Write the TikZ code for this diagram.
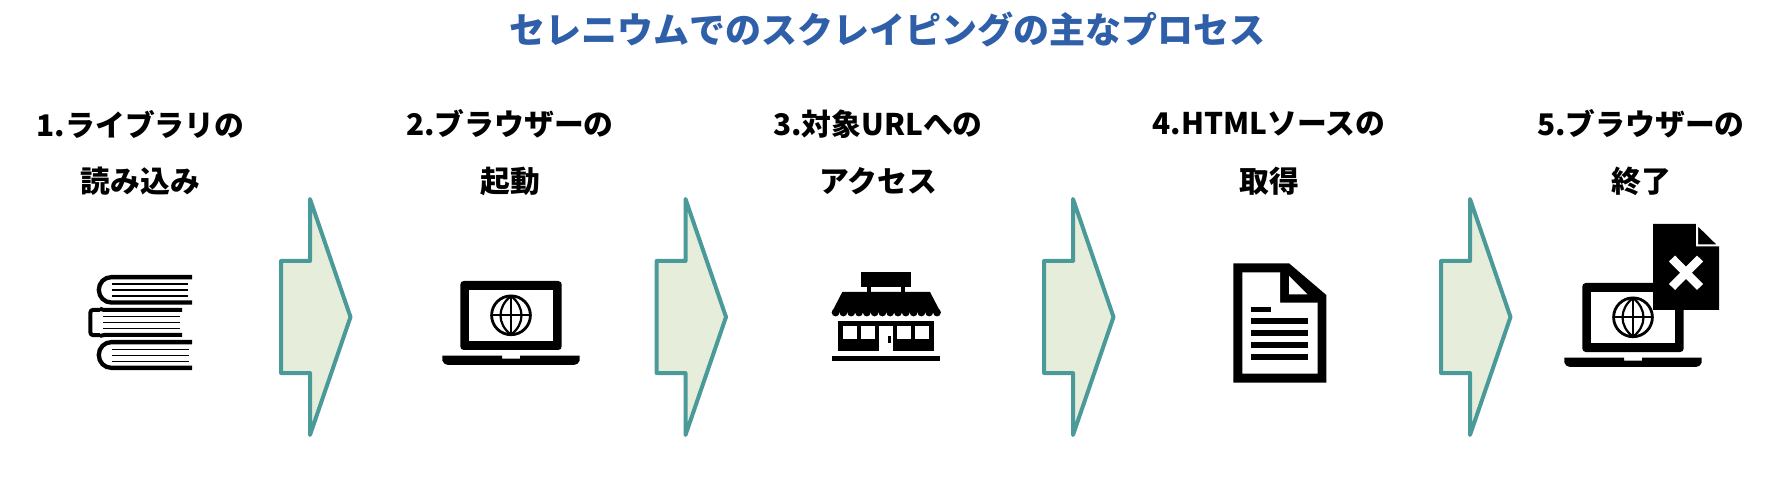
\documentclass[tikz,border=0pt]{standalone}
\usepackage{fontspec}
\setmainfont{Noto Sans CJK JP}
\begin{document}
\begin{tikzpicture}[x=1pt,y=-1pt,
  ttl/.style={font=\fontsize{36}{40}\selectfont\bfseries,text=titleblue,inner sep=0pt,anchor=center},
  lbl/.style={font=\fontsize{29.8}{34}\selectfont\bfseries,text=black,inner sep=0pt,anchor=center},
  flow/.style={draw=flowedge,fill=flowfill,line width=4pt,line join=round},
  ink/.style={fill=black,draw=none},
  paper/.style={fill=white,draw=none},
  hairline/.style={draw=black,line width=1.1pt},
  pageline/.style={draw=black,line width=1.8pt},
  cover/.style={draw=black,line width=4.3pt,rounded corners=12.5pt}]
\definecolor{titleblue}{HTML}{2F5FA8}
\definecolor{flowedge}{HTML}{4A9A9A}
\definecolor{flowfill}{HTML}{E6EEDB}
\useasboundingbox (0,0) rectangle (1778,478);
\fill[white] (0,0) rectangle (1778,478);
\node[ttl] (title) at (887,29) {セレニウムでのスクレイピングの主なプロセス};
\node[lbl] (a1) at (140.5,124) {1.ライブラリの};
\node[lbl] (a2) at (140.5,181) {読み込み};
\node[lbl] (b1) at (510,124) {2.ブラウザーの};
\node[lbl] (b2) at (510,181) {起動};
\node[lbl] (c1) at (878,124) {3.対象URLへの};
\node[lbl] (c2) at (878,181) {アクセス};
\node[lbl] (d1) at (1269,124) {4.HTMLソースの};
\node[lbl] (d2) at (1269,181) {取得};
\node[lbl] (e1) at (1641,124) {5.ブラウザーの};
\node[lbl] (e2) at (1641,181) {終了};
% flow arrows
\foreach \dx in {0,375.5,763,1160}{
  \draw[flow,shift={(\dx,0)}] (281,261) -- (310,261) -- (310,199) -- (350.5,317) -- (310,435) -- (310,373) -- (281,373) -- cycle;
}
% books
\draw[cover] (192,277.15) -- (98.85,277.15) -- (98.85,302.55) -- (192,302.55);
\draw[cover] (192,342.15) -- (98.85,342.15) -- (98.85,367.85) -- (192,367.85);
\draw[pageline] (112,284) -- (188,284);
\draw[pageline] (112,290) -- (188,290);
\draw[pageline] (112,295.8) -- (188,295.8);
\draw[hairline] (112,349.3) -- (189,349.3);
\draw[hairline] (112,355.3) -- (189,355.3);
\draw[hairline] (112,361.3) -- (189,361.3);
\draw[black,line width=4pt,line join=round] (182,310) -- (104,310) -- (100,308.8);
\draw[black,line width=4pt,line join=round] (182,335) -- (104,335) -- (100,336);
\draw[black,line width=4pt,rounded corners=3pt] (100,309.8) -- (90.3,309.8) -- (90.3,335.2) -- (100,335.2);
\draw[hairline] (103.3,316.7) -- (180,316.7);
\draw[hairline] (103.3,322.7) -- (180,322.7);
\draw[hairline] (103.3,328.3) -- (180,328.3);
% laptop 1
\newcommand{\laptopicon}[2]{%
 \begin{scope}[shift={(#1,#2)}]
  \fill[ink,rounded corners=3.5pt] (460.3,350) -- (460.3,281) -- (561.7,281) -- (561.7,350) -- cycle;
  \fill[paper] (469.3,290) rectangle (553,341);
  \draw[black,line width=2.8pt] (511,315.3) circle[radius=19.4];
  \draw[black,line width=2.2pt] (511,296) -- (511,334.7);
  \draw[black,line width=2.2pt] (491.6,315.3) -- (530.4,315.3);
  \draw[black,line width=2.2pt] (511,296) .. controls (497,307) and (497,324) .. (511,334.7);
  \draw[black,line width=2.2pt] (511,296) .. controls (525,307) and (525,324) .. (511,334.7);
  \fill[ink] (442.3,355.7) -- (502,355.7) -- (502,358.7) -- (520,358.7) -- (520,355.7) -- (579.7,355.7) -- (579.7,360) [rounded corners=4pt] -- (578.5,364.8) -- (443.5,364.8) [sharp corners] -- (442.3,360) -- cycle;
 \end{scope}}
\laptopicon{0}{0}
% store
\fill[ink] (861,272) rectangle (911,286.7);
\fill[ink] (867,286) rectangle (871,293);
\fill[ink] (901,286) rectangle (905,293);
\fill[ink] (842.3,292) -- (930,292) -- (940.7,312.5) -- (831.7,312.5) -- cycle;
\foreach \i in {0,...,13}{
  \fill[ink] ({835.6+\i*7.8},312.5) circle[radius=3.9];
}
\fill[ink] (837.7,321) rectangle (934,351);
\fill[paper] (879,326) rectangle (893,351.5);
\fill[ink] (888,336) rectangle (891,342.7);
\fill[paper] (843,326) rectangle (857,339);
\fill[paper] (861,326) rectangle (875,339);
\fill[paper] (897,326) rectangle (911,339);
\fill[paper] (915,326) rectangle (929,339);
\fill[ink] (831.7,356) rectangle (940,360.7);
% document
\fill[ink] (1233.3,263.3) -- (1289,263.3) -- (1326.3,295) -- (1326.3,382.7) -- (1233.3,382.7) -- cycle;
\fill[paper] (1242.3,272.3) -- (1280,272.3) -- (1280,302.7) -- (1317.7,302.7) -- (1317.7,373.7) -- (1242.3,373.7) -- cycle;
\fill[paper] (1289,276) -- (1289,294.3) -- (1307.3,294.3) -- cycle;
\fill[ink] (1251.3,306.7) rectangle (1271,312.3);
\fill[ink] (1251.3,318.3) rectangle (1308.3,324.3);
\fill[ink] (1251.3,330.3) rectangle (1308.3,336.3);
\fill[ink] (1251.3,342.3) rectangle (1308.3,348.3);
\fill[ink] (1251.3,354.3) rectangle (1308.3,360.3);
% laptop 2
\laptopicon{1122}{2}
% closed doc
\fill[ink] (1653,224) -- (1696,224) -- (1696,246) -- (1719,246) -- (1719,310) -- (1653,310) -- cycle;
\draw[white,line width=2pt,fill=black] (1697,224) -- (1697,245.5) -- (1719,245.5) -- cycle;
\draw[white,line width=8.5pt] (1672,258.5) -- (1700,287);
\draw[white,line width=8.5pt] (1700,258.5) -- (1672,287);
\end{tikzpicture}
\end{document}
